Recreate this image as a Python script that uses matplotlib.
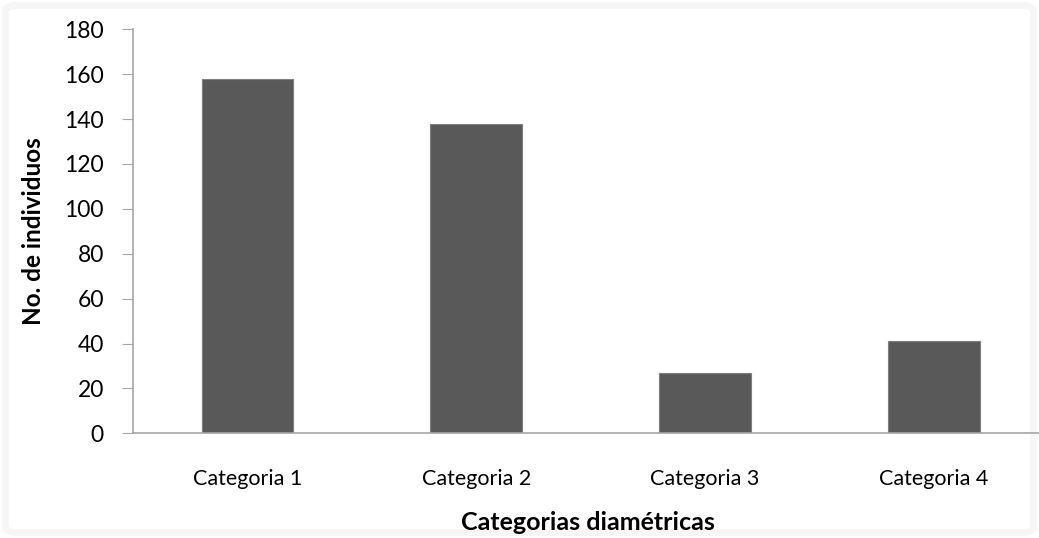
import matplotlib.pyplot as plt
from matplotlib.patches import FancyBboxPatch

categorias = ["Categoria 1", "Categoria 2", "Categoria 3", "Categoria 4"]
individuos = [158, 138, 27, 41]

plt.rcParams["font.family"] = ["Lato", "DejaVu Sans"]

fig = plt.figure(figsize=(10.39, 5.38), dpi=100)

# faint rounded frame around the chart area
frame = FancyBboxPatch((0.005, 0.01), 0.99, 0.98,
                       boxstyle="round,pad=0,rounding_size=0.012",
                       transform=fig.transFigure, facecolor="white",
                       edgecolor="#f6f6f6", linewidth=5, zorder=0)
fig.patches.append(frame)

ax = fig.add_axes([133 / 1039, 0.1946, (1039 - 133) / 1039, 0.751])
ax.set_facecolor("none")
ax.set_zorder(2)

x = range(len(categorias))
ax.bar(x, individuos, width=0.4, color="#595959", edgecolor="#7f7f7f", linewidth=0.8)

ax.set_xlim(-0.5, 3.46)
ax.set_ylim(0, 180)
ax.set_yticks(range(0, 181, 20))
ax.set_xticks(list(x))
ax.set_xticklabels(categorias)

for side in ["top", "right"]:
    ax.spines[side].set_visible(False)
for side in ["left", "bottom"]:
    ax.spines[side].set_color("#a6a6a6")
    ax.spines[side].set_linewidth(1.2)

ax.tick_params(axis="y", direction="out", length=8, color="#a6a6a6",
               labelsize=16.5, pad=13, labelcolor="black")
ax.tick_params(axis="x", length=0, labelsize=15.5, pad=26, labelcolor="black")

ax.set_ylabel("No. de individuos", fontsize=17.5, fontweight="bold", labelpad=14)
fig.text(0.566, 1 - 523 / 538, "Categorias diamétricas", fontsize=18,
         fontweight="bold", ha="center", va="center")

fig.savefig("out.png", dpi=100)
